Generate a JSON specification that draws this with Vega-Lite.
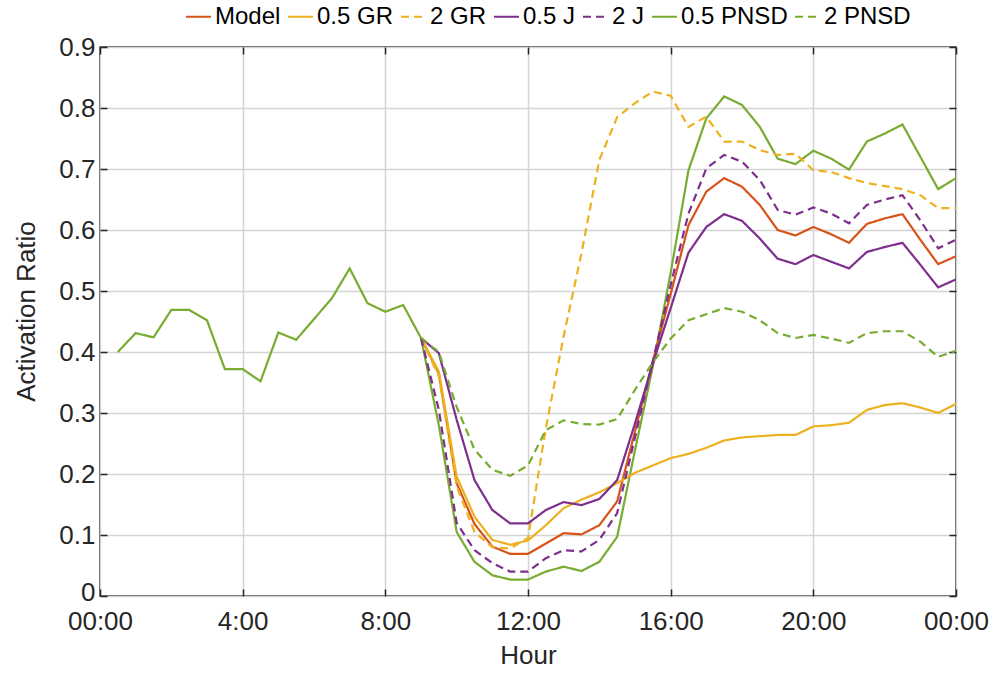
{
  "$schema": "https://vega.github.io/schema/vega-lite/v6.json",
  "autosize": {"type": "none"},
  "width": 856,
  "height": 549,
  "padding": {"left": 100, "top": 47, "right": 38, "bottom": 77},
  "background": "white",
  "config": {
    "font": "Liberation Sans, Arial",
    "view": {"stroke": "#262626", "strokeWidth": 1.5},
    "axis": {
      "domain": false,
      "gridColor": "#d4d4d4",
      "gridWidth": 1.5,
      "tickColor": "#262626",
      "tickWidth": 1.5,
      "tickSize": -7,
      "labelFlush": false,
      "labelColor": "#262626",
      "labelFontSize": 26,
      "labelFont": "Liberation Sans, Arial",
      "titleColor": "#262626",
      "titleFontSize": 26,
      "titleFontWeight": "normal",
      "titleFont": "Liberation Sans, Arial"
    },
    "legend": {
      "labelFont": "Liberation Sans, Arial",
      "labelFontSize": 24,
      "labelColor": "#000000"
    }
  },
  "data": {
    "values": [
      {"h": 0.5, "s": "0.5 PNSD", "v": 0.400},
      {"h": 1.0, "s": "0.5 PNSD", "v": 0.431},
      {"h": 1.5, "s": "0.5 PNSD", "v": 0.424},
      {"h": 2.0, "s": "0.5 PNSD", "v": 0.469},
      {"h": 2.5, "s": "0.5 PNSD", "v": 0.469},
      {"h": 3.0, "s": "0.5 PNSD", "v": 0.452},
      {"h": 3.5, "s": "0.5 PNSD", "v": 0.372},
      {"h": 4.0, "s": "0.5 PNSD", "v": 0.372},
      {"h": 4.5, "s": "0.5 PNSD", "v": 0.352},
      {"h": 5.0, "s": "0.5 PNSD", "v": 0.432},
      {"h": 5.5, "s": "0.5 PNSD", "v": 0.420},
      {"h": 6.0, "s": "0.5 PNSD", "v": 0.454},
      {"h": 6.5, "s": "0.5 PNSD", "v": 0.488},
      {"h": 7.0, "s": "0.5 PNSD", "v": 0.537},
      {"h": 7.5, "s": "0.5 PNSD", "v": 0.480},
      {"h": 8.0, "s": "0.5 PNSD", "v": 0.466},
      {"h": 8.5, "s": "0.5 PNSD", "v": 0.477},

      {"h": 9.0, "s": "Model", "v": 0.423},
      {"h": 9.5, "s": "Model", "v": 0.365},
      {"h": 10.0, "s": "Model", "v": 0.185},
      {"h": 10.5, "s": "Model", "v": 0.118},
      {"h": 11.0, "s": "Model", "v": 0.081},
      {"h": 11.5, "s": "Model", "v": 0.069},
      {"h": 12.0, "s": "Model", "v": 0.069},
      {"h": 12.5, "s": "Model", "v": 0.086},
      {"h": 13.0, "s": "Model", "v": 0.103},
      {"h": 13.5, "s": "Model", "v": 0.101},
      {"h": 14.0, "s": "Model", "v": 0.116},
      {"h": 14.5, "s": "Model", "v": 0.155},
      {"h": 15.0, "s": "Model", "v": 0.270},
      {"h": 15.5, "s": "Model", "v": 0.385},
      {"h": 16.0, "s": "Model", "v": 0.495},
      {"h": 16.5, "s": "Model", "v": 0.608},
      {"h": 17.0, "s": "Model", "v": 0.663},
      {"h": 17.5, "s": "Model", "v": 0.685},
      {"h": 18.0, "s": "Model", "v": 0.671},
      {"h": 18.5, "s": "Model", "v": 0.641},
      {"h": 19.0, "s": "Model", "v": 0.600},
      {"h": 19.5, "s": "Model", "v": 0.591},
      {"h": 20.0, "s": "Model", "v": 0.605},
      {"h": 20.5, "s": "Model", "v": 0.593},
      {"h": 21.0, "s": "Model", "v": 0.579},
      {"h": 21.5, "s": "Model", "v": 0.610},
      {"h": 22.0, "s": "Model", "v": 0.619},
      {"h": 22.5, "s": "Model", "v": 0.626},
      {"h": 23.0, "s": "Model", "v": 0.584},
      {"h": 23.5, "s": "Model", "v": 0.544},
      {"h": 24.0, "s": "Model", "v": 0.557},

      {"h": 9.0, "s": "0.5 GR", "v": 0.423},
      {"h": 9.5, "s": "0.5 GR", "v": 0.368},
      {"h": 10.0, "s": "0.5 GR", "v": 0.196},
      {"h": 10.5, "s": "0.5 GR", "v": 0.130},
      {"h": 11.0, "s": "0.5 GR", "v": 0.092},
      {"h": 11.5, "s": "0.5 GR", "v": 0.084},
      {"h": 12.0, "s": "0.5 GR", "v": 0.091},
      {"h": 12.5, "s": "0.5 GR", "v": 0.116},
      {"h": 13.0, "s": "0.5 GR", "v": 0.144},
      {"h": 13.5, "s": "0.5 GR", "v": 0.158},
      {"h": 14.0, "s": "0.5 GR", "v": 0.170},
      {"h": 14.5, "s": "0.5 GR", "v": 0.185},
      {"h": 15.0, "s": "0.5 GR", "v": 0.202},
      {"h": 15.5, "s": "0.5 GR", "v": 0.214},
      {"h": 16.0, "s": "0.5 GR", "v": 0.226},
      {"h": 16.5, "s": "0.5 GR", "v": 0.233},
      {"h": 17.0, "s": "0.5 GR", "v": 0.243},
      {"h": 17.5, "s": "0.5 GR", "v": 0.255},
      {"h": 18.0, "s": "0.5 GR", "v": 0.260},
      {"h": 18.5, "s": "0.5 GR", "v": 0.262},
      {"h": 19.0, "s": "0.5 GR", "v": 0.264},
      {"h": 19.5, "s": "0.5 GR", "v": 0.264},
      {"h": 20.0, "s": "0.5 GR", "v": 0.278},
      {"h": 20.5, "s": "0.5 GR", "v": 0.280},
      {"h": 21.0, "s": "0.5 GR", "v": 0.284},
      {"h": 21.5, "s": "0.5 GR", "v": 0.305},
      {"h": 22.0, "s": "0.5 GR", "v": 0.313},
      {"h": 22.5, "s": "0.5 GR", "v": 0.316},
      {"h": 23.0, "s": "0.5 GR", "v": 0.309},
      {"h": 23.5, "s": "0.5 GR", "v": 0.300},
      {"h": 24.0, "s": "0.5 GR", "v": 0.315},

      {"h": 9.0, "s": "2 GR", "v": 0.423},
      {"h": 9.5, "s": "2 GR", "v": 0.360},
      {"h": 10.0, "s": "2 GR", "v": 0.180},
      {"h": 10.5, "s": "2 GR", "v": 0.105},
      {"h": 11.0, "s": "2 GR", "v": 0.080},
      {"h": 11.5, "s": "2 GR", "v": 0.078},
      {"h": 12.0, "s": "2 GR", "v": 0.095},
      {"h": 12.5, "s": "2 GR", "v": 0.275},
      {"h": 13.0, "s": "2 GR", "v": 0.426},
      {"h": 13.5, "s": "2 GR", "v": 0.562},
      {"h": 14.0, "s": "2 GR", "v": 0.715},
      {"h": 14.5, "s": "2 GR", "v": 0.785},
      {"h": 15.0, "s": "2 GR", "v": 0.808},
      {"h": 15.5, "s": "2 GR", "v": 0.827},
      {"h": 16.0, "s": "2 GR", "v": 0.820},
      {"h": 16.5, "s": "2 GR", "v": 0.769},
      {"h": 17.0, "s": "2 GR", "v": 0.786},
      {"h": 17.5, "s": "2 GR", "v": 0.745},
      {"h": 18.0, "s": "2 GR", "v": 0.745},
      {"h": 18.5, "s": "2 GR", "v": 0.731},
      {"h": 19.0, "s": "2 GR", "v": 0.723},
      {"h": 19.5, "s": "2 GR", "v": 0.725},
      {"h": 20.0, "s": "2 GR", "v": 0.698},
      {"h": 20.5, "s": "2 GR", "v": 0.695},
      {"h": 21.0, "s": "2 GR", "v": 0.685},
      {"h": 21.5, "s": "2 GR", "v": 0.677},
      {"h": 22.0, "s": "2 GR", "v": 0.672},
      {"h": 22.5, "s": "2 GR", "v": 0.667},
      {"h": 23.0, "s": "2 GR", "v": 0.657},
      {"h": 23.5, "s": "2 GR", "v": 0.636},
      {"h": 24.0, "s": "2 GR", "v": 0.636},

      {"h": 9.0, "s": "0.5 J", "v": 0.423},
      {"h": 9.5, "s": "0.5 J", "v": 0.398},
      {"h": 10.0, "s": "0.5 J", "v": 0.289},
      {"h": 10.5, "s": "0.5 J", "v": 0.190},
      {"h": 11.0, "s": "0.5 J", "v": 0.141},
      {"h": 11.5, "s": "0.5 J", "v": 0.119},
      {"h": 12.0, "s": "0.5 J", "v": 0.119},
      {"h": 12.5, "s": "0.5 J", "v": 0.141},
      {"h": 13.0, "s": "0.5 J", "v": 0.154},
      {"h": 13.5, "s": "0.5 J", "v": 0.149},
      {"h": 14.0, "s": "0.5 J", "v": 0.159},
      {"h": 14.5, "s": "0.5 J", "v": 0.190},
      {"h": 15.0, "s": "0.5 J", "v": 0.283},
      {"h": 15.5, "s": "0.5 J", "v": 0.381},
      {"h": 16.0, "s": "0.5 J", "v": 0.472},
      {"h": 16.5, "s": "0.5 J", "v": 0.563},
      {"h": 17.0, "s": "0.5 J", "v": 0.605},
      {"h": 17.5, "s": "0.5 J", "v": 0.626},
      {"h": 18.0, "s": "0.5 J", "v": 0.615},
      {"h": 18.5, "s": "0.5 J", "v": 0.586},
      {"h": 19.0, "s": "0.5 J", "v": 0.553},
      {"h": 19.5, "s": "0.5 J", "v": 0.544},
      {"h": 20.0, "s": "0.5 J", "v": 0.559},
      {"h": 20.5, "s": "0.5 J", "v": 0.548},
      {"h": 21.0, "s": "0.5 J", "v": 0.537},
      {"h": 21.5, "s": "0.5 J", "v": 0.564},
      {"h": 22.0, "s": "0.5 J", "v": 0.572},
      {"h": 22.5, "s": "0.5 J", "v": 0.579},
      {"h": 23.0, "s": "0.5 J", "v": 0.543},
      {"h": 23.5, "s": "0.5 J", "v": 0.506},
      {"h": 24.0, "s": "0.5 J", "v": 0.519},

      {"h": 9.0, "s": "2 J", "v": 0.423},
      {"h": 9.5, "s": "2 J", "v": 0.305},
      {"h": 10.0, "s": "2 J", "v": 0.120},
      {"h": 10.5, "s": "2 J", "v": 0.075},
      {"h": 11.0, "s": "2 J", "v": 0.054},
      {"h": 11.5, "s": "2 J", "v": 0.040},
      {"h": 12.0, "s": "2 J", "v": 0.040},
      {"h": 12.5, "s": "2 J", "v": 0.062},
      {"h": 13.0, "s": "2 J", "v": 0.075},
      {"h": 13.5, "s": "2 J", "v": 0.073},
      {"h": 14.0, "s": "2 J", "v": 0.092},
      {"h": 14.5, "s": "2 J", "v": 0.136},
      {"h": 15.0, "s": "2 J", "v": 0.260},
      {"h": 15.5, "s": "2 J", "v": 0.385},
      {"h": 16.0, "s": "2 J", "v": 0.510},
      {"h": 16.5, "s": "2 J", "v": 0.627},
      {"h": 17.0, "s": "2 J", "v": 0.701},
      {"h": 17.5, "s": "2 J", "v": 0.723},
      {"h": 18.0, "s": "2 J", "v": 0.712},
      {"h": 18.5, "s": "2 J", "v": 0.682},
      {"h": 19.0, "s": "2 J", "v": 0.633},
      {"h": 19.5, "s": "2 J", "v": 0.625},
      {"h": 20.0, "s": "2 J", "v": 0.637},
      {"h": 20.5, "s": "2 J", "v": 0.627},
      {"h": 21.0, "s": "2 J", "v": 0.611},
      {"h": 21.5, "s": "2 J", "v": 0.641},
      {"h": 22.0, "s": "2 J", "v": 0.650},
      {"h": 22.5, "s": "2 J", "v": 0.657},
      {"h": 23.0, "s": "2 J", "v": 0.616},
      {"h": 23.5, "s": "2 J", "v": 0.570},
      {"h": 24.0, "s": "2 J", "v": 0.584},

      {"h": 9.0, "s": "0.5 PNSD", "v": 0.423},
      {"h": 9.5, "s": "0.5 PNSD", "v": 0.280},
      {"h": 10.0, "s": "0.5 PNSD", "v": 0.105},
      {"h": 10.5, "s": "0.5 PNSD", "v": 0.056},
      {"h": 11.0, "s": "0.5 PNSD", "v": 0.034},
      {"h": 11.5, "s": "0.5 PNSD", "v": 0.027},
      {"h": 12.0, "s": "0.5 PNSD", "v": 0.027},
      {"h": 12.5, "s": "0.5 PNSD", "v": 0.040},
      {"h": 13.0, "s": "0.5 PNSD", "v": 0.048},
      {"h": 13.5, "s": "0.5 PNSD", "v": 0.041},
      {"h": 14.0, "s": "0.5 PNSD", "v": 0.056},
      {"h": 14.5, "s": "0.5 PNSD", "v": 0.097},
      {"h": 15.0, "s": "0.5 PNSD", "v": 0.239},
      {"h": 15.5, "s": "0.5 PNSD", "v": 0.376},
      {"h": 16.0, "s": "0.5 PNSD", "v": 0.530},
      {"h": 16.5, "s": "0.5 PNSD", "v": 0.698},
      {"h": 17.0, "s": "0.5 PNSD", "v": 0.783},
      {"h": 17.5, "s": "0.5 PNSD", "v": 0.819},
      {"h": 18.0, "s": "0.5 PNSD", "v": 0.805},
      {"h": 18.5, "s": "0.5 PNSD", "v": 0.769},
      {"h": 19.0, "s": "0.5 PNSD", "v": 0.717},
      {"h": 19.5, "s": "0.5 PNSD", "v": 0.708},
      {"h": 20.0, "s": "0.5 PNSD", "v": 0.730},
      {"h": 20.5, "s": "0.5 PNSD", "v": 0.717},
      {"h": 21.0, "s": "0.5 PNSD", "v": 0.699},
      {"h": 21.5, "s": "0.5 PNSD", "v": 0.745},
      {"h": 22.0, "s": "0.5 PNSD", "v": 0.758},
      {"h": 22.5, "s": "0.5 PNSD", "v": 0.773},
      {"h": 23.0, "s": "0.5 PNSD", "v": 0.720},
      {"h": 23.5, "s": "0.5 PNSD", "v": 0.667},
      {"h": 24.0, "s": "0.5 PNSD", "v": 0.685},

      {"h": 9.0, "s": "2 PNSD", "v": 0.423},
      {"h": 9.5, "s": "2 PNSD", "v": 0.400},
      {"h": 10.0, "s": "2 PNSD", "v": 0.310},
      {"h": 10.5, "s": "2 PNSD", "v": 0.240},
      {"h": 11.0, "s": "2 PNSD", "v": 0.207},
      {"h": 11.5, "s": "2 PNSD", "v": 0.197},
      {"h": 12.0, "s": "2 PNSD", "v": 0.214},
      {"h": 12.5, "s": "2 PNSD", "v": 0.272},
      {"h": 13.0, "s": "2 PNSD", "v": 0.288},
      {"h": 13.5, "s": "2 PNSD", "v": 0.282},
      {"h": 14.0, "s": "2 PNSD", "v": 0.281},
      {"h": 14.5, "s": "2 PNSD", "v": 0.290},
      {"h": 15.0, "s": "2 PNSD", "v": 0.338},
      {"h": 15.5, "s": "2 PNSD", "v": 0.383},
      {"h": 16.0, "s": "2 PNSD", "v": 0.422},
      {"h": 16.5, "s": "2 PNSD", "v": 0.452},
      {"h": 17.0, "s": "2 PNSD", "v": 0.462},
      {"h": 17.5, "s": "2 PNSD", "v": 0.472},
      {"h": 18.0, "s": "2 PNSD", "v": 0.466},
      {"h": 18.5, "s": "2 PNSD", "v": 0.452},
      {"h": 19.0, "s": "2 PNSD", "v": 0.431},
      {"h": 19.5, "s": "2 PNSD", "v": 0.423},
      {"h": 20.0, "s": "2 PNSD", "v": 0.428},
      {"h": 20.5, "s": "2 PNSD", "v": 0.422},
      {"h": 21.0, "s": "2 PNSD", "v": 0.415},
      {"h": 21.5, "s": "2 PNSD", "v": 0.431},
      {"h": 22.0, "s": "2 PNSD", "v": 0.434},
      {"h": 22.5, "s": "2 PNSD", "v": 0.434},
      {"h": 23.0, "s": "2 PNSD", "v": 0.417},
      {"h": 23.5, "s": "2 PNSD", "v": 0.392},
      {"h": 24.0, "s": "2 PNSD", "v": 0.402}
    ]
  },
  "layer": [
    {
      "mark": {"type": "line", "strokeWidth": 2.2, "clip": true},
      "encoding": {
        "x": {
          "field": "h", "type": "quantitative",
          "scale": {"domain": [0, 24], "nice": false, "zero": false},
          "axis": {
            "title": "Hour",
            "values": [0, 4, 8, 12, 16, 20, 24],
            "labelExpr": "(datum.value == 0 || datum.value == 24) ? '00:00' : datum.value + ':00'",
            "labelFontSize": 26,
            "labelFlush": false,
            "labelPadding": 19,
            "titleY": 46
          }
        },
        "y": {
          "field": "v", "type": "quantitative",
          "scale": {"domain": [0, 0.9], "nice": false},
          "axis": {
            "title": "Activation Ratio",
            "values": [0, 0.1, 0.2, 0.3, 0.4, 0.5, 0.6, 0.7, 0.8, 0.9],
            "labelExpr": "datum.value == 0 ? '0' : format(datum.value, '.1f')",
            "labelFontSize": 26,
            "labelFlush": false,
            "labelPadding": 12,
            "labelOffset": {"condition": {"test": "datum.value == 0", "value": -4}, "value": 0},
            "titleX": -61,
            "titleY": 264
          }
        },
        "color": {
          "field": "s", "type": "nominal",
          "scale": {
            "domain": ["Model", "0.5 GR", "2 GR", "0.5 J", "2 J", "0.5 PNSD", "2 PNSD"],
            "range": ["#D95319", "#EDB120", "#EDB120", "#7E2F8E", "#7E2F8E", "#77AC30", "#77AC30"]
          },
          "legend": {
            "title": null,
            "orient": "none",
            "direction": "horizontal",
            "columns": 7,
            "legendX": 85,
            "legendY": -44,
            "symbolType": "stroke",
            "symbolSize": 625,
            "symbolStrokeWidth": 2,
            "labelOffset": 3,
            "columnPadding": 3,
            "symbolOffset": 0
          }
        },
        "strokeDash": {
          "field": "s", "type": "nominal",
          "scale": {
            "domain": ["Model", "0.5 GR", "2 GR", "0.5 J", "2 J", "0.5 PNSD", "2 PNSD"],
            "range": [[1, 0], [1, 0], [8, 5], [1, 0], [8, 5], [1, 0], [8, 5]]
          },
          "legend": {
            "title": null,
            "orient": "none",
            "direction": "horizontal",
            "columns": 7,
            "legendX": 85,
            "legendY": -44,
            "symbolType": "stroke",
            "symbolSize": 625,
            "symbolStrokeWidth": 2,
            "labelOffset": 3,
            "columnPadding": 3,
            "symbolOffset": 0
          }
        }
      }
    },
    {
      "mark": {"type": "point", "opacity": 0},
      "encoding": {
        "x": {
          "field": "h", "type": "quantitative",
          "axis": {"orient": "top", "labels": false, "grid": false, "title": null, "values": [0, 4, 8, 12, 16, 20, 24]}
        },
        "y": {
          "field": "v", "type": "quantitative",
          "axis": {"orient": "right", "labels": false, "grid": false, "title": null, "values": [0, 0.1, 0.2, 0.3, 0.4, 0.5, 0.6, 0.7, 0.8, 0.9]}
        }
      }
    }
  ],
  "resolve": {"axis": {"x": "independent", "y": "independent"}}
}
